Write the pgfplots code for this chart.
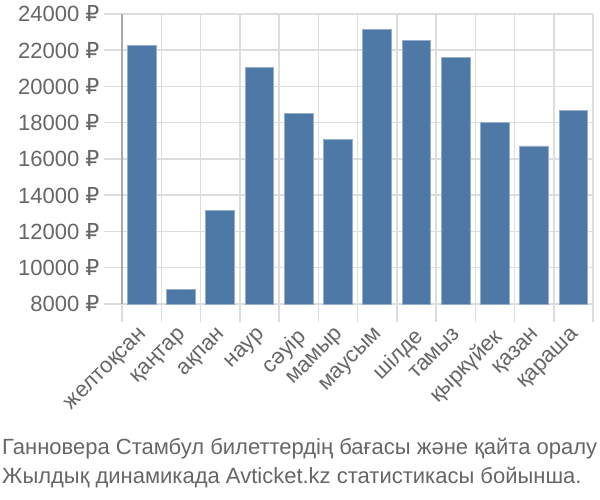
\documentclass[border=0pt]{standalone}
\usepackage{pgfplots}
\pgfplotsset{compat=1.18}
\usepackage{fontspec}
\setmainfont{Liberation Sans}
\newfontfamily\rub{DejaVu Sans}
\definecolor{barc}{HTML}{4E79A7}
\definecolor{txt}{HTML}{666666}
\definecolor{gridc}{HTML}{DDDDDD}
\definecolor{axc}{HTML}{AAAAAA}
\newcommand{\R}{{\rub ₽}}
\begin{document}
\begin{tikzpicture}
\path[use as bounding box] (0,0) rectangle (600bp,500bp);
\begin{axis}[
  at={(122bp,196bp)}, anchor=south west,
  scale only axis, width=471bp, height=290bp,
  xmin=-0.5, xmax=11.5, ymin=8000, ymax=24000,
  scaled y ticks=false,
  axis x line=bottom, axis y line=left,
  axis line style={axc, line width=1.2bp, -},
  x axis line style={gridc, line width=1.5bp},
  xtick={0,...,11},
  xticklabels={желтоқсан,қаңтар,ақпан,наур,сәуір,мамыр,маусым,шілде,тамыз,қыркүйек,қазан,қараша},
  major x tick style={draw=none},
  minor xtick={-0.5,0.5,...,11.5},
  minor x tick style={gridc, line width=1.5bp},
  xminorgrids, minor grid style={gridc, line width=1.5bp},
  minor tick length=18bp,
  tick align=outside,
  ytick={8000,10000,...,24000},
  yticklabels={8000 \R,10000 \R,12000 \R,14000 \R,16000 \R,18000 \R,20000 \R,22000 \R,24000 \R},
  ymajorgrids, major grid style={gridc, line width=1.5bp},
  major y tick style={gridc, line width=1.5bp},
  major tick length=18bp,
  yticklabel style={font=\fontsize{22bp}{24bp}\selectfont, text=txt, xshift=-1bp},
  xticklabel style={font=\fontsize{22bp}{24bp}\selectfont, text=txt, xshift=-3bp, yshift=-3bp, rotate=45, anchor=north east, inner sep=1bp},
  clip=false,
]
\addplot[ybar, bar width=28.7bp, fill=barc, draw=barc!60!white, line width=0.8bp]
 coordinates {(0,22250) (1,8810) (2,13170) (3,21060) (4,18500) (5,17100) (6,23170) (7,22530) (8,21610) (9,18000) (10,16720) (11,18670)};
\end{axis}
\node[anchor=base west, text=txt, font=\fontsize{22bp}{28bp}\selectfont, inner sep=0] at (2bp,45bp) {Ганновера Стамбул билеттердің бағасы және қайта оралу};
\node[anchor=base west, text=txt, font=\fontsize{22bp}{28bp}\selectfont, inner sep=0] at (2bp,17bp) {Жылдық динамикада Avticket.kz статистикасы бойынша.};
\end{tikzpicture}
\end{document}
